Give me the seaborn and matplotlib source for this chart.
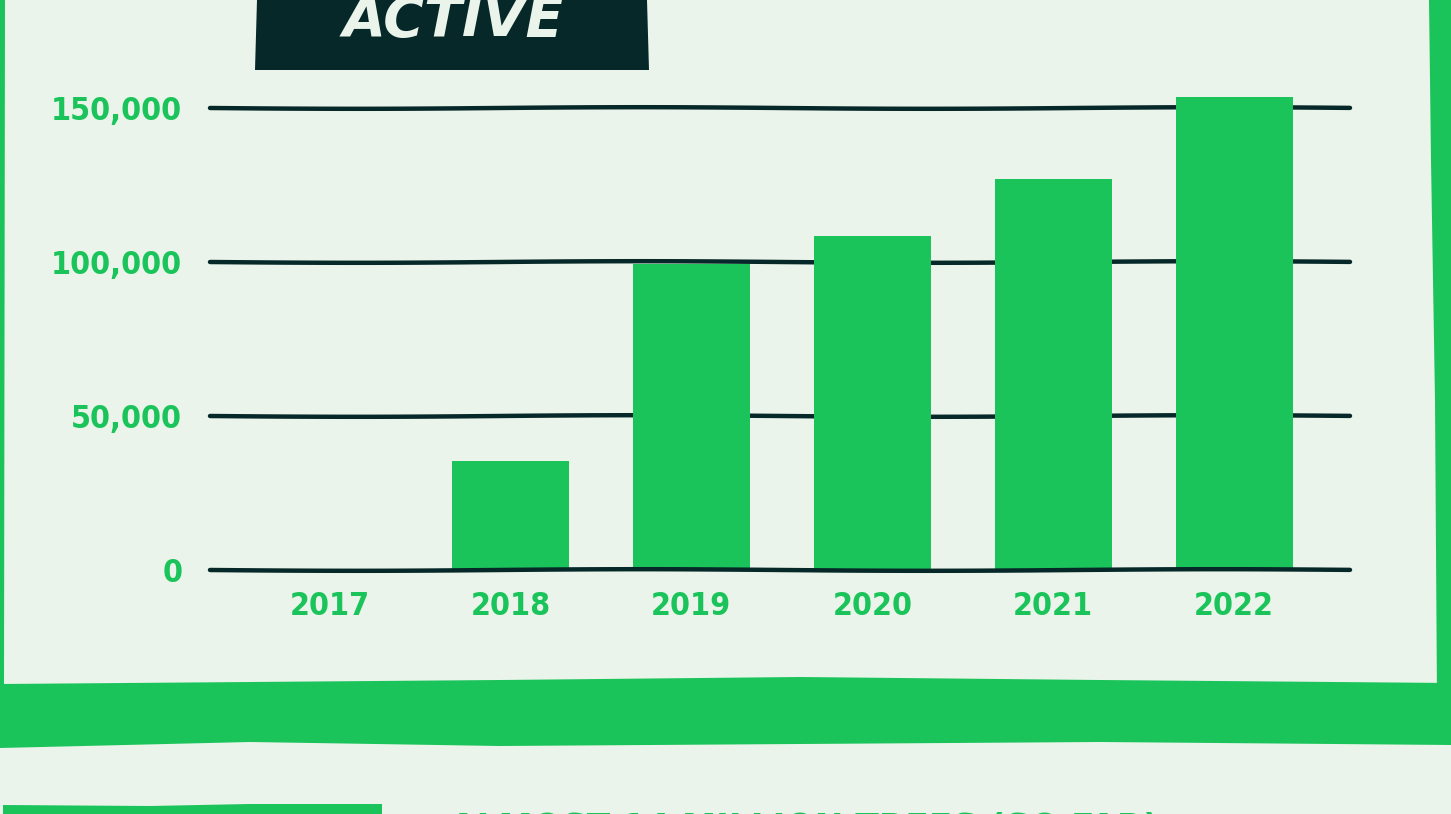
import numpy as np
import pandas as pd
import matplotlib
matplotlib.use("Agg")
import matplotlib.pyplot as plt
import seaborn as sns
from matplotlib import font_manager
from matplotlib.patches import Polygon

# chart data
years = ["2017", "2018", "2019", "2020", "2021", "2022"]
active_counts = [0, 35500, 99500, 108500, 127000, 153500]
y_ticks = [0, 50000, 100000, 150000]
y_tick_labels = ["0", "50,000", "100,000", "150,000"]

GREEN = "#1BC45A"
DARK = "#062829"
BG = "#EAF4EA"

W, H, DPI = 1451, 814, 100

sns.set_theme(style="white")


def weight_num(w):
    if isinstance(w, (int, float)):
        return w
    return font_manager.weight_dict.get(str(w).lower(), 400)


def is_condensed(f):
    st = str(f.stretch).lower()
    return ("narrow" in f.name.lower() or "condensed" in f.name.lower()
            or "condensed" in st or "narrow" in st)


# prefer a condensed face that has a bold weight
fonts = font_manager.fontManager.ttflist
bold_cond = [f for f in fonts if is_condensed(f) and weight_num(f.weight) >= 600]
any_cond = [f for f in fonts if is_condensed(f)]
pick = (bold_cond or any_cond or [None])[0]
if pick is not None:
    cond_family, cond_stretch = pick.name, str(pick.stretch)
    cond_weight = weight_num(pick.weight)
else:
    cond_family, cond_stretch, cond_weight = "Roboto", "normal", 700
plt.rcParams["font.family"] = [cond_family, "DejaVu Sans"]
plt.rcParams["font.stretch"] = cond_stretch
label_weight = max(cond_weight, 600) if bold_cond else "bold"

fig = plt.figure(figsize=(W / DPI, H / DPI), dpi=DPI, facecolor=BG)

# ── decoration layer in pixel coordinates ─────────────────────────────
deco = fig.add_axes([0, 0, 1, 1], zorder=0)
deco.set_xlim(0, W)
deco.set_ylim(H, 0)
deco.axis("off")
deco.set_facecolor(BG)

# left / right borders of the frame
deco.add_patch(Polygon([(0, 0), (5, 0), (4, 690), (0, 690)], closed=True, color=GREEN, lw=0))
deco.add_patch(Polygon([(1429, 0), (W, 0), (W, 700), (1437, 700), (1435, 400), (1431, 160)],
                       closed=True, color=GREEN, lw=0))
# bottom band of the frame
deco.add_patch(Polygon([(0, 684), (250, 682), (500, 680), (800, 677), (1100, 680), (W, 683),
                        (W, 745), (1100, 742), (800, 744), (500, 746), (250, 742), (0, 748)],
                       closed=True, color=GREEN, lw=0))
# top of next panel
deco.add_patch(Polygon([(3, 805), (150, 806), (250, 804), (382, 804), (382, H), (3, H)],
                       closed=True, color=GREEN, lw=0))
deco.text(450, 812, "ALMOST 14 MILLION TREES (SO FAR)", color=GREEN, fontsize=27.5,
          fontweight=label_weight, ha="left", va="top")

# dark title box
deco.add_patch(Polygon([(257, 0), (647, 0), (649, 70), (255, 70)], closed=True, color=DARK, lw=0))
deco.text(453, 36, "ACTIVE", color=BG, fontsize=40, fontweight="bold", fontstyle="italic",
          family=["DejaVu Sans"], stretch="normal", ha="center", va="baseline")

# ── main bar chart ────────────────────────────────────────────────────
y0_px, y150_px = 570, 108
px_per_unit = (y0_px - y150_px) / 150000
ymax = 160000
top_px = y0_px - ymax * px_per_unit
ax = fig.add_axes([210 / W, (H - y0_px) / H, (1350 - 210) / W, (y0_px - top_px) / H], zorder=2)
ax.patch.set_alpha(0)

df = pd.DataFrame({"year": years, "active": active_counts})
sns.barplot(data=df, x="year", y="active", color=GREEN, saturation=1, width=0.646,
            ax=ax, zorder=3)
for p in ax.patches:
    p.set_linewidth(0)

for yv in y_ticks:
    ln = ax.axhline(yv, color=DARK, lw=3.2, solid_capstyle="round",
                    zorder=4 if yv == 0 else 1, clip_on=False)
    ln.set_sketch_params(scale=0.8, length=600, randomness=1.5)

ax.set_xlim(-0.66, 5.64)
ax.set_ylim(0, ymax)
ax.set_yticks(y_ticks)
ax.set_yticklabels(y_tick_labels)
ax.set_xlabel("")
ax.set_ylabel("")
ax.tick_params(axis="both", length=0, labelcolor=GREEN, labelsize=23)
ax.tick_params(axis="y", pad=20)
ax.tick_params(axis="x", pad=15)
for lab in ax.get_xticklabels() + ax.get_yticklabels():
    lab.set_fontweight(label_weight)
for s in ax.spines.values():
    s.set_visible(False)
ax.grid(False)

fig.savefig("out.png", dpi=DPI, facecolor=BG)
